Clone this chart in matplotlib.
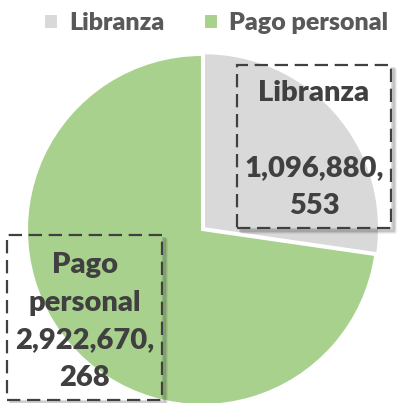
import matplotlib
matplotlib.use('Agg')
import matplotlib.pyplot as plt
import matplotlib.patches as patches

# data
labels = ['Libranza', 'Pago personal']
values = [1096880553, 2922670268]
colors = ['#D9D9D9', '#A9D18E']
explode = [0.015, 0]

label_text = ['Libranza\n\n1,096,880,\n553', 'Pago\npersonal\n2,922,670,\n268']
# label boxes (x0, y0, x1, y1) in data units, text centre
boxes = [(0.20, 0.011, 1.08, 0.943), (-1.114, -0.971, -0.229, -0.029)]
text_pos = [(0.64, 0.46), (-0.671, -0.525)]

plt.rcParams['font.family'] = ['Lato', 'DejaVu Sans']

fig = plt.figure(figsize=(4.04, 4.03), dpi=100)
ax = fig.add_axes([0, 0, 1, 1])
ax.axis('off')

wedges, _ = ax.pie(values, colors=colors, startangle=90, counterclock=False,
                   explode=explode, radius=1,
                   wedgeprops={'edgecolor': 'white', 'linewidth': 1.5})

for (x0, y0, x1, y1), t, (tx, ty) in zip(boxes, label_text, text_pos):
    # soft shadow along right / bottom edges
    for k, a in [(0.024, 0.05), (0.017, 0.08), (0.011, 0.12)]:
        ax.plot([x1 + k, x1 + k, x0 + k], [y1 - k, y0 - k, y0 - k],
                color='black', alpha=a, linewidth=3, solid_capstyle='butt', zorder=3)
    rect = patches.Rectangle((x0, y0), x1 - x0, y1 - y0, fill=False,
                             edgecolor='#404040', linewidth=1.6,
                             linestyle=(0, (6, 3)), zorder=4)
    ax.add_patch(rect)
    ax.text(tx, ty, t, ha='center', va='center', fontsize=21, fontweight='heavy',
            color='#404040', linespacing=1.55, zorder=5)

ax.set_xlim(-1.154, 1.154)
ax.set_ylim(-0.989, 1.314)
ax.set_aspect('auto')

leg = fig.legend(wedges, labels, loc='upper center', bbox_to_anchor=(0.535, 1.025),
                 ncol=2, frameon=False, handlelength=0.55, handleheight=0.55,
                 handletextpad=0.45, columnspacing=1.6, fontsize=18)
for txt in leg.get_texts():
    txt.set_color('#595959')
    txt.set_fontweight('heavy')

fig.savefig('out.png', dpi=100)
